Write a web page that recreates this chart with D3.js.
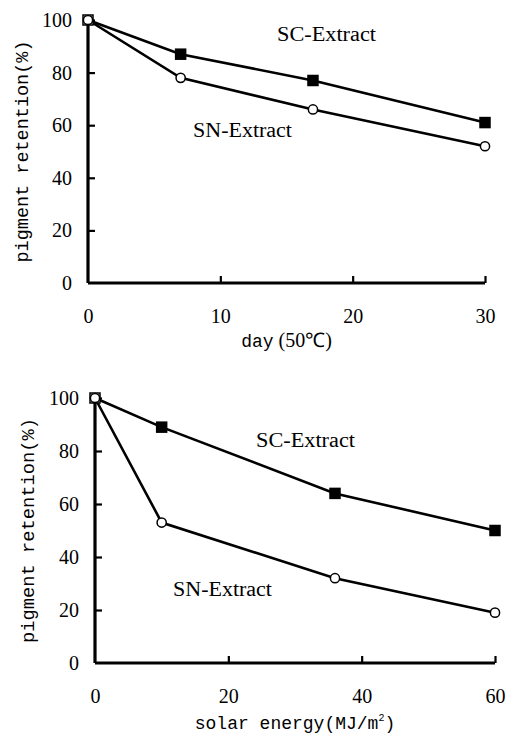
<!DOCTYPE html>
<html><head><meta charset="utf-8">
<script src="https://cdn.jsdelivr.net/npm/d3@7"></script>
<style>body{margin:0;background:#fff}svg{display:block}
.serif{font-family:"Liberation Serif","Times New Roman",serif}
.mono{font-family:"Liberation Mono","DejaVu Sans Mono",monospace}
</style>
</head><body>
<script>
// ---- Data ----
const daysX = [0, 7, 17, 30];
const daysSC = [100, 87, 77, 61];
const daysSN = [100, 78, 66, 52];
const daysTicks = [0, 10, 20, 30];

const solarX = [0, 10, 36, 60];
const solarSC = [100, 89, 64, 50];
const solarSN = [100, 53, 32, 19];
const solarTicks = [0, 20, 40, 60];

const yTicks = [0, 20, 40, 60, 80, 100];

const svg = d3.select("body").append("svg").attr("width", 508).attr("height", 742);

function panel(cfg) {
  const x = d3.scaleLinear().domain(cfg.xDomain).range(cfg.xRange);
  const y = d3.scaleLinear().domain([0, 100]).range(cfg.yRange);
  const g = svg.append("g");

  const ya = g.append("g").attr("transform", `translate(${cfg.xRange[0]},0)`)
    .call(d3.axisLeft(y).tickValues(yTicks).tickSize(-7).tickPadding(16).tickFormat(d3.format("d")));
  const xa = g.append("g").attr("transform", `translate(0,${cfg.yRange[0]})`)
    .call(d3.axisBottom(x).tickValues(cfg.xTicks).tickSize(-7).tickPadding(26).tickFormat(d3.format("d")));
  [ya, xa].forEach(a => {
    a.attr("font-family", null).attr("font-size", null);
    a.select(".domain").attr("stroke", "#000").attr("stroke-width", 3.2);
    a.selectAll(".tick line").attr("stroke", "#000").attr("stroke-width", 2.2);
    a.selectAll("text").attr("class", "serif").style("font-size", "20px").attr("fill", "#000");
  });
  xa.selectAll(".tick").filter(d => d === 0).select("line").remove();
  ya.selectAll(".tick").filter(d => d === 0).select("line").remove();
  xa.select(".domain").attr("d", `M${cfg.xRange[0]},0H${cfg.xRange[1]}`);
  ya.select(".domain").attr("d", `M0,${cfg.yRange[0]}V${cfg.yRange[1]}`);

  const line = d3.line().x(d => x(d[0])).y(d => y(d[1]));
  const sc = cfg.xs.map((v, i) => [v, cfg.sc[i]]);
  const sn = cfg.xs.map((v, i) => [v, cfg.sn[i]]);
  g.append("path").datum(sc).attr("d", line).attr("fill", "none").attr("stroke", "#000").attr("stroke-width", 2.6);
  g.append("path").datum(sn).attr("d", line).attr("fill", "none").attr("stroke", "#000").attr("stroke-width", 2.6);

  g.selectAll(".sq").data(sc).enter().append("rect")
    .attr("x", d => x(d[0]) - 5).attr("y", d => y(d[1]) - 5)
    .attr("width", 10).attr("height", 10)
    .attr("fill", (d, i) => i === 0 ? "#fff" : "#000").attr("stroke", "#000").attr("stroke-width", 1.5);
  g.selectAll(".ci").data(sn).enter().append("circle")
    .attr("cx", d => x(d[0])).attr("cy", d => y(d[1])).attr("r", 4.6)
    .attr("fill", "#fff").attr("stroke", "#000").attr("stroke-width", 1.5);

  cfg.labels.forEach(l => {
    g.append("text").attr("x", l.x).attr("y", l.y).text(l.t)
      .attr("class", "serif").style("font-size", "20px")
      .attr("textLength", 99).attr("lengthAdjust", "spacingAndGlyphs");
  });

  const cy = (cfg.yRange[0] + cfg.yRange[1]) / 2;
  g.append("text").attr("transform", `translate(${cfg.yLabelX},${cy}) rotate(-90)`)
    .attr("text-anchor", "middle").attr("class", "mono").style("font-size", "18px")
    .attr("textLength", cfg.yLabelLen).attr("lengthAdjust", "spacingAndGlyphs")
    .text("pigment retention(%)");

  const xl = g.append("text").attr("x", (cfg.xRange[0] + cfg.xRange[1]) / 2).attr("y", cfg.xLabelY)
    .attr("text-anchor", "middle").attr("class", "mono").style("font-size", "18px");
  cfg.xLabel(xl);
}

panel({
  xDomain: [0, 30], xRange: [88, 485], yRange: [283, 20], xTicks: daysTicks,
  xs: daysX, sc: daysSC, sn: daysSN,
  labels: [{ t: "SC-Extract", x: 277, y: 41 }, { t: "SN-Extract", x: 193, y: 137 }],
  yLabelX: 28, yLabelLen: 222, xLabelY: 347,
  xLabel: t => {
    t.append("tspan").text("day");
    t.append("tspan").attr("class", "serif").style("font-size", "20px").text(" (50℃)");
  }
});

panel({
  xDomain: [0, 60], xRange: [95, 495], yRange: [663, 398], xTicks: solarTicks,
  xs: solarX, sc: solarSC, sn: solarSN,
  labels: [{ t: "SC-Extract", x: 256, y: 447 }, { t: "SN-Extract", x: 173, y: 596 }],
  yLabelX: 34, yLabelLen: 225, xLabelY: 729,
  xLabel: t => {
    t.append("tspan").text("solar energy(MJ/m");
    t.append("tspan").style("font-size", "10px").attr("dy", -8).text("2");
    t.append("tspan").attr("dy", 8).text(")");
  }
});
</script>
</body></html>
